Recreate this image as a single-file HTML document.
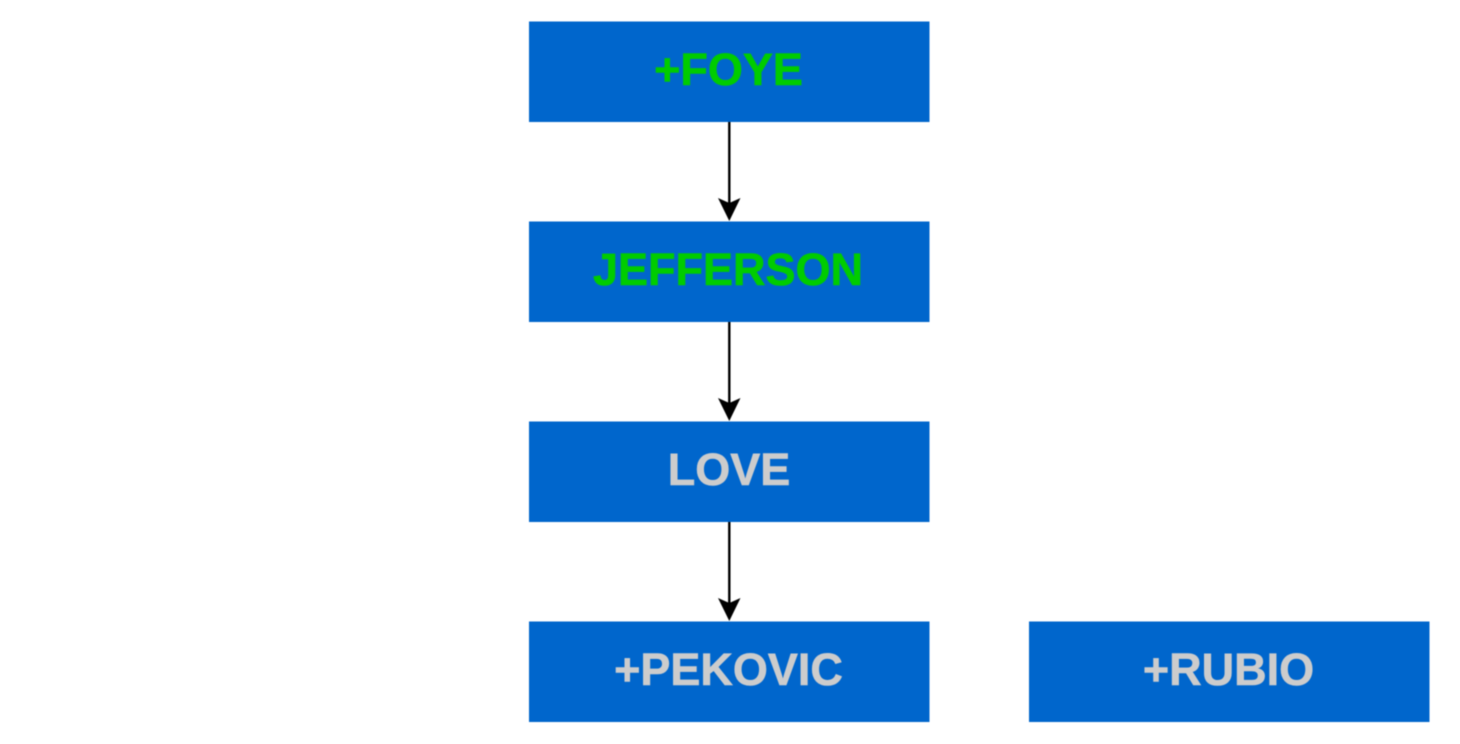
<!DOCTYPE html>
<html>
<head>
<meta charset="utf-8">
<style>
html,body{margin:0;padding:0;background:#fff;width:1460px;height:744px;overflow:hidden}
svg{display:block;filter:blur(0.5px)}
text{font-family:"Liberation Sans",Arial,sans-serif;font-weight:bold;font-size:45px;text-anchor:middle;stroke-width:0.6px}
</style>
</head>
<body>
<svg width="1460" height="744" viewBox="0 0 1460 744" xmlns="http://www.w3.org/2000/svg">
<rect width="1460" height="744" fill="#fff"/>
<g fill="#0066cc">
<rect x="529" y="21.5" width="400.5" height="100.5"/>
<rect x="529" y="221.5" width="400.5" height="100.5"/>
<rect x="529" y="421.5" width="400.5" height="100.5"/>
<rect x="529" y="621.5" width="400.5" height="100.5"/>
<rect x="1029" y="621.5" width="400.5" height="100.5"/>
</g>
<g stroke="#000" stroke-width="2.4" fill="none">
<line x1="729.3" y1="122" x2="729.3" y2="210"/>
<line x1="729.3" y1="322" x2="729.3" y2="410"/>
<line x1="729.3" y1="522" x2="729.3" y2="610"/>
</g>
<g fill="#000">
<polygon points="729.3,221 718,198 729.3,203 740.5,198"/>
<polygon points="729.3,421 718,398 729.3,403 740.5,398"/>
<polygon points="729.3,621 718,598 729.3,603 740.5,598"/>
</g>
<text x="728.5" y="85" fill="#00cc00" stroke="#00cc00">+FOYE</text>
<text x="728" y="285" fill="#00cc00" stroke="#00cc00">JEFFERSON</text>
<text x="729" y="485" fill="#cccccc" stroke="#cccccc">LOVE</text>
<text x="728.5" y="685" fill="#cccccc" stroke="#cccccc">+PEKOVIC</text>
<text x="1228.5" y="685" fill="#cccccc" stroke="#cccccc">+RUBIO</text>
</svg>
</body>
</html>
